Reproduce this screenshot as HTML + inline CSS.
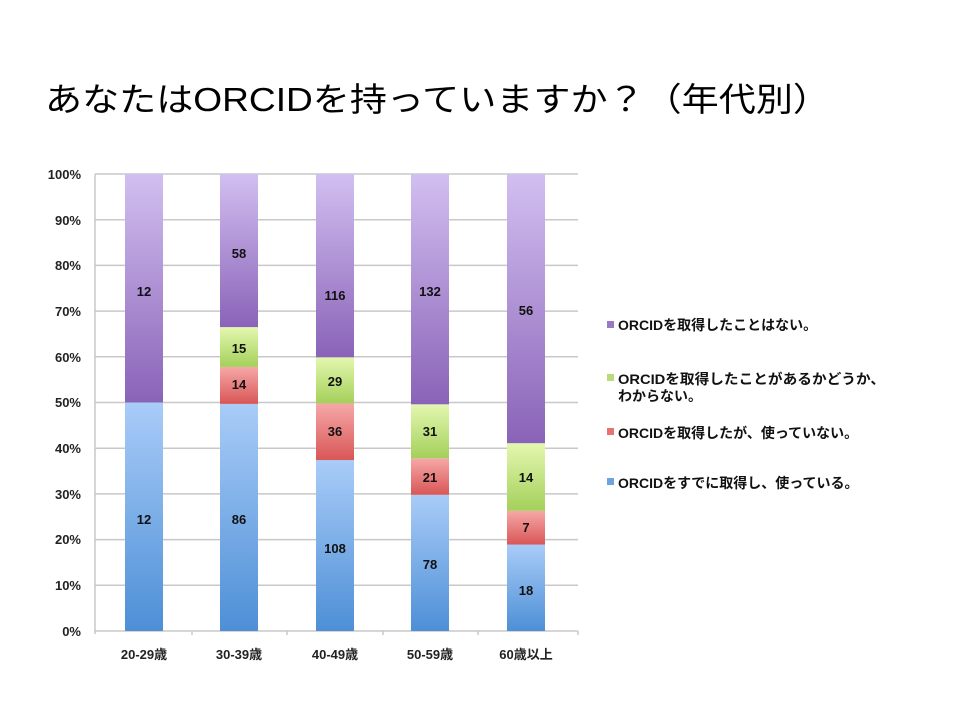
<!DOCTYPE html>
<html><head><meta charset="utf-8"><style>
body{margin:0;background:#fff;}
svg text{font-family:"Liberation Sans","Noto Sans CJK JP",sans-serif;}
</style></head><body>
<svg width="960" height="720" xmlns="http://www.w3.org/2000/svg">
<defs>
<linearGradient id="pu" x1="0" y1="0" x2="0" y2="1"><stop offset="0" stop-color="#d2bff0"/><stop offset="1" stop-color="#8a63b8"/></linearGradient>
<linearGradient id="gr" x1="0" y1="0" x2="0" y2="1"><stop offset="0" stop-color="#e4f7b0"/><stop offset="1" stop-color="#a4d05a"/></linearGradient>
<linearGradient id="rd" x1="0" y1="0" x2="0" y2="1"><stop offset="0" stop-color="#f6a8a8"/><stop offset="1" stop-color="#d95656"/></linearGradient>
<linearGradient id="bl" x1="0" y1="0" x2="0" y2="1"><stop offset="0" stop-color="#a9ccf8"/><stop offset="1" stop-color="#4d8fd6"/></linearGradient>
</defs>
<text x="45" y="111" font-size="33" fill="#000" textLength="785" lengthAdjust="spacingAndGlyphs">あなたはORCIDを持っていますか？（年代別）</text>
<g stroke="#c8c8c8" stroke-width="1.5">
<line x1="95" y1="174" x2="578" y2="174"/><line x1="95" y1="219.7" x2="578" y2="219.7"/>
<line x1="95" y1="265.4" x2="578" y2="265.4"/><line x1="95" y1="311.1" x2="578" y2="311.1"/>
<line x1="95" y1="356.8" x2="578" y2="356.8"/><line x1="95" y1="402.5" x2="578" y2="402.5"/>
<line x1="95" y1="448.2" x2="578" y2="448.2"/><line x1="95" y1="493.9" x2="578" y2="493.9"/>
<line x1="95" y1="539.6" x2="578" y2="539.6"/><line x1="95" y1="585.3" x2="578" y2="585.3"/>
<line x1="95" y1="631" x2="578" y2="631"/><line x1="95" y1="174" x2="95" y2="634"/>
<line x1="192" y1="631" x2="192" y2="635"/><line x1="287" y1="631" x2="287" y2="635"/><line x1="383" y1="631" x2="383" y2="635"/><line x1="478" y1="631" x2="478" y2="635"/><line x1="578" y1="631" x2="578" y2="635"/>
</g>
<g font-size="13" font-weight="bold" fill="#222" text-anchor="end">
<text x="81" y="179">100%</text><text x="81" y="225">90%</text><text x="81" y="270">80%</text><text x="81" y="316">70%</text><text x="81" y="362">60%</text><text x="81" y="407">50%</text><text x="81" y="453">40%</text><text x="81" y="499">30%</text><text x="81" y="544">20%</text><text x="81" y="590">10%</text><text x="81" y="636">0%</text>
</g>
<rect x="125" y="402.5" width="38" height="228.5" fill="url(#bl)"/>
<rect x="125" y="174" width="38" height="228.5" fill="url(#pu)"/>
<rect x="220" y="403.9" width="38" height="227.1" fill="url(#bl)"/>
<rect x="220" y="366.9" width="38" height="37" fill="url(#rd)"/>
<rect x="220" y="327.1" width="38" height="39.8" fill="url(#gr)"/>
<rect x="220" y="174" width="38" height="153.1" fill="url(#pu)"/>
<rect x="316" y="460.1" width="38" height="170.9" fill="url(#bl)"/>
<rect x="316" y="403.4" width="38" height="56.7" fill="url(#rd)"/>
<rect x="316" y="357.3" width="38" height="46.1" fill="url(#gr)"/>
<rect x="316" y="174" width="38" height="183.3" fill="url(#pu)"/>
<rect x="411" y="494.8" width="38" height="136.2" fill="url(#bl)"/>
<rect x="411" y="458.3" width="38" height="36.5" fill="url(#rd)"/>
<rect x="411" y="404.3" width="38" height="54" fill="url(#gr)"/>
<rect x="411" y="174" width="38" height="230.3" fill="url(#pu)"/>
<rect x="507" y="544.6" width="38" height="86.4" fill="url(#bl)"/>
<rect x="507" y="510.8" width="38" height="33.8" fill="url(#rd)"/>
<rect x="507" y="443.2" width="38" height="67.6" fill="url(#gr)"/>
<rect x="507" y="174" width="38" height="269.2" fill="url(#pu)"/>
<g font-size="13" font-weight="bold" fill="#111" text-anchor="middle">
<text x="144" y="296">12</text><text x="144" y="524">12</text>
<text x="239" y="258">58</text><text x="239" y="353">15</text><text x="239" y="389">14</text><text x="239" y="524">86</text>
<text x="335" y="300">116</text><text x="335" y="386">29</text><text x="335" y="436">36</text><text x="335" y="553">108</text>
<text x="430" y="296">132</text><text x="430" y="436">31</text><text x="430" y="482">21</text><text x="430" y="569">78</text>
<text x="526" y="315">56</text><text x="526" y="482">14</text><text x="526" y="532">7</text><text x="526" y="595">18</text>
</g>
<g font-size="13" font-weight="bold" fill="#222" text-anchor="middle">
<text x="144" y="659">20-29歳</text><text x="239" y="659">30-39歳</text><text x="335" y="659">40-49歳</text><text x="430" y="659">50-59歳</text><text x="526" y="659">60歳以上</text>
</g>
<rect x="607" y="321" width="7" height="7" fill="#9a78c8"/>
<rect x="607" y="374" width="7" height="7" fill="#b8dc7c"/>
<rect x="607" y="428" width="7" height="7" fill="#e87272"/>
<rect x="607" y="478" width="7" height="7" fill="#6fa2e0"/>
<g font-size="14" font-weight="bold" fill="#111">
<text x="618" y="330">ORCIDを取得したことはない。</text>
<text x="618" y="384" textLength="267" lengthAdjust="spacingAndGlyphs">ORCIDを取得したことがあるかどうか、</text>
<text x="618" y="401">わからない。</text>
<text x="618" y="438">ORCIDを取得したが、使っていない。</text>
<text x="618" y="488">ORCIDをすでに取得し、使っている。</text>
</g>
</svg>
</body></html>
